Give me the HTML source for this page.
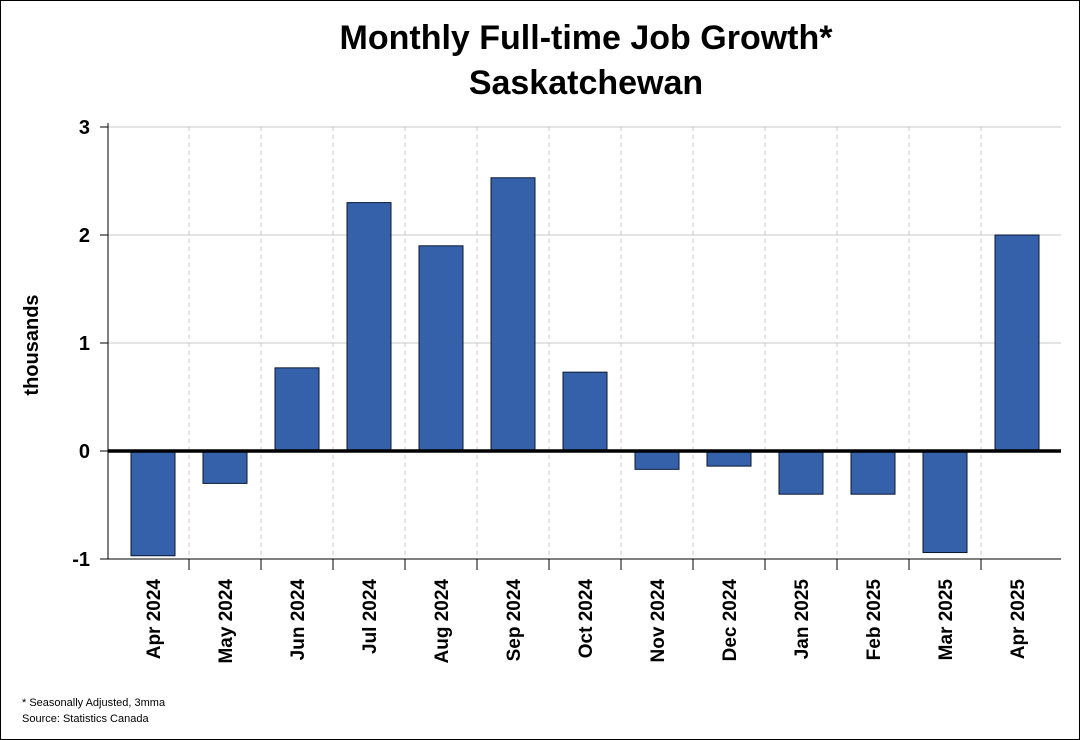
<!DOCTYPE html>
<html><head><meta charset="utf-8"><style>
html,body{margin:0;padding:0;background:#fff}
svg{display:block;font-family:"Liberation Sans",Arial,sans-serif}
</style></head><body>
<svg width="1080" height="740" viewBox="0 0 1080 740" xmlns="http://www.w3.org/2000/svg">
<rect x="0.5" y="0.5" width="1079" height="739" fill="#fff" stroke="#000"/>
<text x="586" y="49" text-anchor="middle" font-size="34" font-weight="bold">Monthly Full-time Job Growth*</text>
<text x="586" y="94" text-anchor="middle" font-size="34" font-weight="bold">Saskatchewan</text>
<text transform="translate(38,345) rotate(-90)" text-anchor="middle" font-size="20" font-weight="bold">thousands</text>
<g id="grid"></g><g id="bars"></g><g id="axes"></g>
<text x="22" y="706" font-size="11">* Seasonally Adjusted, 3mma</text>
<text x="22" y="722" font-size="11">Source: Statistics Canada</text>
</svg>
<script>
const categories=["Apr 2024","May 2024","Jun 2024","Jul 2024","Aug 2024","Sep 2024","Oct 2024","Nov 2024","Dec 2024","Jan 2025","Feb 2025","Mar 2025","Apr 2025"];
const values=[-0.97,-0.30,0.77,2.30,1.90,2.53,0.73,-0.17,-0.14,-0.40,-0.40,-0.94,2.00];
const yTicks=[-1,0,1,2,3];
const NS="http://www.w3.org/2000/svg";
const left=108,right=1061,bandStart=117,band=72,barW=44;
const y=v=>451-v*108;
const xc=i=>bandStart+band*i+band/2;
function mk(tag,attrs,parent){const e=document.createElementNS(NS,tag);for(const k in attrs)e.setAttribute(k,attrs[k]);parent.appendChild(e);return e;}
const grid=document.getElementById('grid'),bars=document.getElementById('bars'),axes=document.getElementById('axes');
yTicks.forEach(t=>{
 if(t!==0&&t!==-1){const g=mk('line',{x1:left,x2:right,y1:y(t),y2:y(t),stroke:'#c8c8c8','stroke-width':1},grid);
 
 }
 const tk=mk('line',{x1:left-8,x2:left,y1:y(t),y2:y(t),stroke:'#000'},axes);
 
 
 const lb=mk('text',{x:left-18,y:y(t)+7,'text-anchor':'end','font-size':20,'font-weight':'bold'},axes);
 lb.textContent=t;
 
 
});
for(let i=1;i<categories.length;i++){
 const xs=bandStart+band*i;
 const d=mk('line',{x1:xs,x2:xs,y1:y(3),y2:y(-1),stroke:'#c8c8c8','stroke-dasharray':'4,4'},grid);
 
 
 const tk=mk('line',{x1:xs,x2:xs,y1:y(-1),y2:y(-1)+11,stroke:'#000'},axes);
 
 
}
values.forEach((v,i)=>{
 const r=mk('rect',{x:xc(i)-barW/2,y:Math.min(y(v),y(0)),width:barW,height:Math.abs(y(v)-y(0)),fill:'#3560aa',stroke:'#0a1a33','stroke-width':1},bars);
 
 
 const lb=mk('text',{transform:`translate(${xc(i)+7},${y(-1)+20}) rotate(-90)`,'text-anchor':'end','font-size':19,'font-weight':'bold'},axes);
 lb.textContent=categories[i];
 
 
});
const ya=mk('line',{x1:left,x2:left,y1:y(3)-4,y2:y(-1),stroke:'#000'},axes);


const xa=mk('line',{x1:left,x2:right,y1:y(-1),y2:y(-1),stroke:'#000'},axes);


const zl=mk('line',{x1:left,x2:right,y1:y(0),y2:y(0),stroke:'#000','stroke-width':3.5},axes);


</script>
</body></html>
